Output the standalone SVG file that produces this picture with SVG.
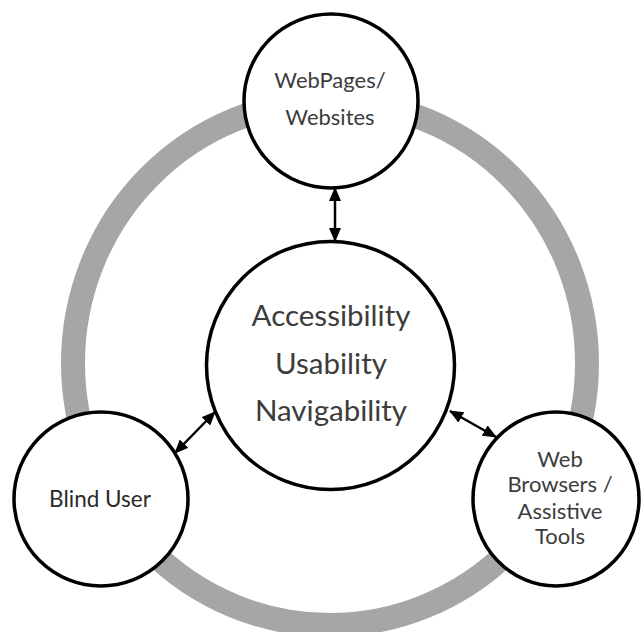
<svg xmlns="http://www.w3.org/2000/svg" width="641" height="632" viewBox="0 0 641 632">
  <defs>
    <marker id="ah" viewBox="0 0 14 12" refX="13" refY="6" markerWidth="14" markerHeight="12" markerUnits="userSpaceOnUse" orient="auto-start-reverse">
      <path d="M0,0 L14,6 L0,12 Z" fill="#000"/>
    </marker>
    <style>
      .node { fill: #fff; stroke: #000; stroke-width: 3.5; }
      .lbl { font-family: Lato, "Open Sans", sans-serif; fill: #3c3c3c; text-anchor: middle; }
      .conn { stroke: #000; stroke-width: 2.5; fill: none; marker-start: url(#ah); marker-end: url(#ah); }
    </style>
  </defs>
  <rect width="641" height="632" fill="#fff"/>
  <ellipse id="ring" cx="330" cy="363" rx="257" ry="262" fill="none" stroke="#a6a6a6" stroke-width="24"/>

  <g id="center">
    <circle class="node" cx="330.5" cy="365.5" r="124"/>
    <text class="lbl" x="331" y="326" font-size="29.5">Accessibility</text>
    <text class="lbl" x="331" y="374" font-size="29.5">Usability</text>
    <text class="lbl" x="331" y="421" font-size="29.5">Navigability</text>
  </g>

  <g id="webpages">
    <circle class="node" cx="331" cy="101" r="87"/>
    <text class="lbl" x="330" y="88" font-size="22">WebPages/</text>
    <text class="lbl" x="330" y="125" font-size="22">Websites</text>
  </g>

  <g id="blinduser">
    <circle class="node" cx="101" cy="499" r="87"/>
    <text class="lbl" x="100" y="507" font-size="22.5" style="fill:#2a2a2a">Blind User</text>
  </g>

  <g id="browsers">
    <ellipse class="node" cx="556" cy="499" rx="83" ry="87"/>
    <text class="lbl" x="560" y="467" font-size="22">Web</text>
    <text class="lbl" x="560" y="492" font-size="22">Browsers /</text>
    <text class="lbl" x="560" y="519" font-size="22">Assistive</text>
    <text class="lbl" x="560" y="544" font-size="22">Tools</text>
  </g>

  <g id="connectors">
    <line class="conn" x1="335" y1="188" x2="335" y2="241"/>
    <line class="conn" x1="175" y1="453" x2="215" y2="412"/>
    <line class="conn" x1="450" y1="411" x2="496" y2="437"/>
  </g>
</svg>
